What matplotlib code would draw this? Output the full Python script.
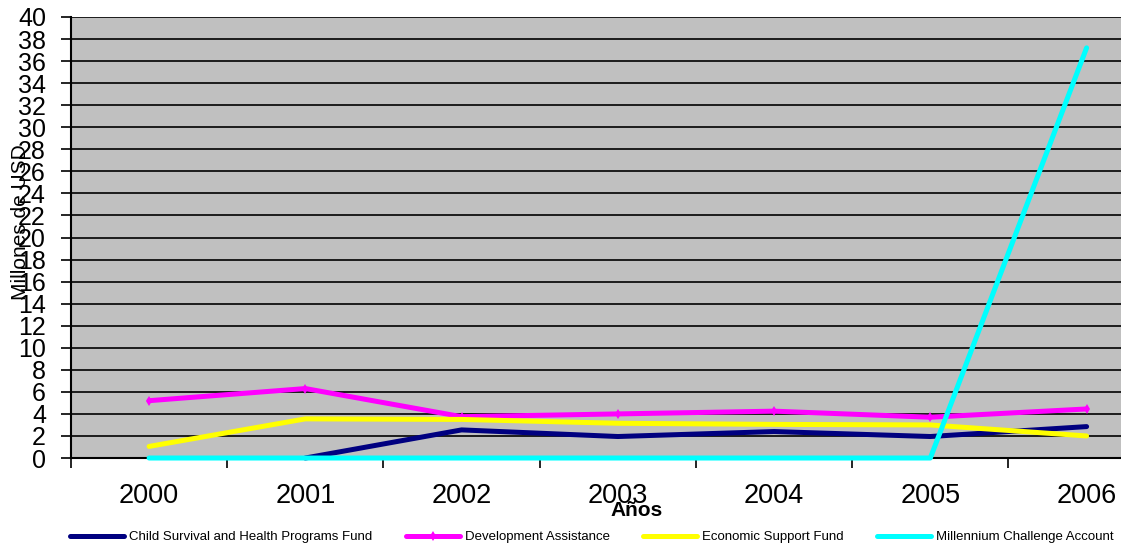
import numpy as np
import matplotlib
matplotlib.use("Agg")
import matplotlib.pyplot as plt
from matplotlib.ticker import FixedLocator, MultipleLocator

plt.rcParams['font.family'] = ['Liberation Sans', 'DejaVu Sans']

# Datos (millones de USD)
years = ["2000", "2001", "2002", "2003", "2004", "2005", "2006"]
child_survival = [np.nan, 0.0, 2.55, 1.95, 2.4, 1.95, 2.85]
development_assistance = [5.2, 6.3, 3.75, 4.0, 4.25, 3.7, 4.45]
economic_support = [1.05, 3.55, 3.5, 3.15, 3.05, 3.0, 2.0]
millennium_challenge = [0.0, 0.0, 0.0, 0.0, 0.0, 0.0, 37.2]

series = [
    ("Child Survival and Health Programs Fund", child_survival, "#000080", None),
    ("Development Assistance", development_assistance, "#FF00FF", "d"),
    ("Economic Support Fund", economic_support, "#FFFF00", None),
    ("Millennium Challenge Account", millennium_challenge, "#00FFFF", None),
]

fig = plt.figure(figsize=(11.21, 5.48), dpi=100)
# el área del gráfico sigue más allá del borde derecho
ax = fig.add_axes([0.0633, 0.1642, 1.039 - 0.0633, 0.969 - 0.1642])
ax.set_facecolor("#C0C0C0")

x = np.arange(len(years))
for i, (name, vals, color, mk) in enumerate(series):
    ax.plot(x, vals, color=color, lw=3.6, label=name,
            marker=mk, markersize=5, markeredgewidth=0,
            solid_joinstyle="round", solid_capstyle="round",
            clip_on=False, zorder=3 + i)

ax.set_xlim(-0.5, len(years) - 0.5)
ax.set_ylim(0, 40)
ax.yaxis.set_major_locator(MultipleLocator(2))
ax.grid(axis="y", color="black", lw=1.2)
ax.set_axisbelow(True)

# marcas del eje x entre categorías, etiquetas en el centro
ax.xaxis.set_major_locator(FixedLocator(x))
ax.xaxis.set_minor_locator(FixedLocator(np.arange(-0.5, len(years), 1.0)))
ax.set_xticklabels(years, fontsize=19.5)
ax.tick_params(axis="x", which="major", length=0, pad=18)
ax.tick_params(axis="x", which="minor", length=7, width=1.2, color="black", direction="out")
ax.tick_params(axis="y", labelsize=18, length=7, width=1.2, pad=11, direction="out")

for s in ["top", "right"]:
    ax.spines[s].set_visible(False)
ax.spines["left"].set_linewidth(1.5)
ax.spines["bottom"].set_linewidth(1.5)

fig.text(0.018, 0.595, "Millones de USD", rotation=90, fontsize=15,
         ha="center", va="center")
fig.text(0.568, 0.069, "Años", fontsize=15, fontweight="bold",
         ha="center", va="center")

fig.legend(loc="center", bbox_to_anchor=(0.528, 0.02), ncol=4, frameon=False,
           fontsize=9.5, handlelength=4.1, handletextpad=0.4,
           columnspacing=2.5, borderaxespad=0)

fig.savefig("out.png", dpi=100)
